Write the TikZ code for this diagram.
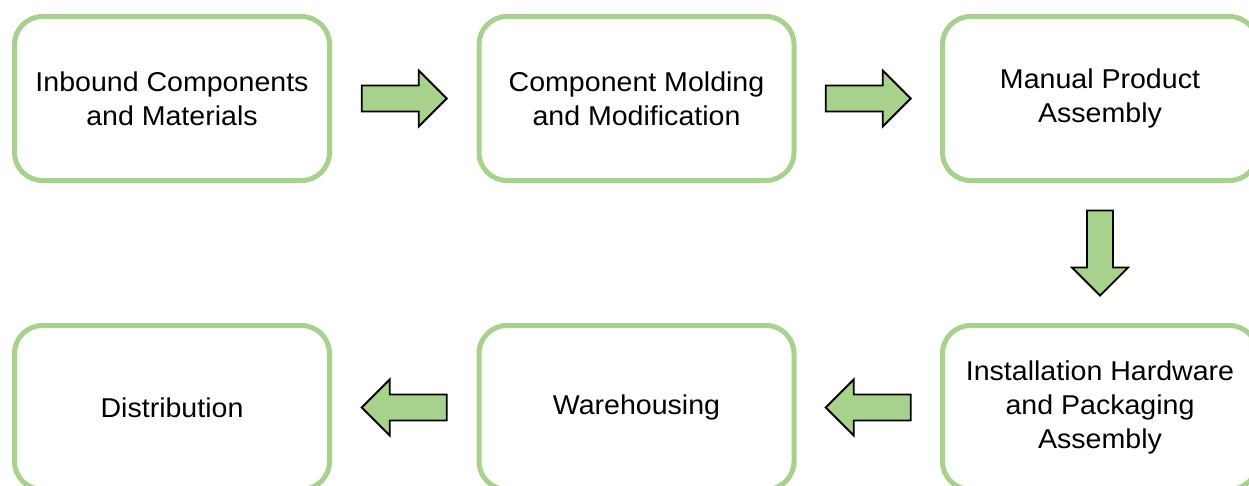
\documentclass[tikz,border=0pt]{standalone}
\usepackage{fontspec}
\setmainfont{Liberation Sans}[FakeStretch=1.05]
\usetikzlibrary{calc}
\definecolor{boxgreen}{HTML}{A9D18E}
\tikzset{
  procbox/.style={draw=boxgreen, line width=5pt, rounded corners=28pt, fill=white,
    minimum width=315pt, minimum height=164pt, align=center, text=black,
    font=\fontsize{27.2}{33.8}\selectfont},
  barrow/.style={draw=black, line width=1.8pt, fill=boxgreen, line join=miter}
}
\newcommand\blockarrow[3]{%
  \draw[barrow, shift={($(#1)!0.5!(#2)$)}, rotate=#3]
    (-42.5,-13) -- (14.5,-13) -- (14.5,-28) -- (42.5,0) -- (14.5,28) -- (14.5,13) -- (-42.5,13) -- cycle;}
\begin{document}
\begin{tikzpicture}[x=1pt, y=-1pt]
\useasboundingbox (0,0) rectangle (1249,485);
\clip (0,0) rectangle (1249,485);
\node[procbox] (b1) at (172,98.5) {Inbound Components\\and Materials};
\node[procbox] (b2) at (636.5,98.5) {Component Molding\\and Modification};
\node[procbox] (b3) at (1100,98.5) {Manual Product\\Assembly};
\node[procbox] (b4) at (1100,407.5) {Installation Hardware\\and Packaging\\Assembly};
\node[procbox] (b5) at (636.5,407.5) {Warehousing};
\node[procbox] (b6) at (172,407.5) {Distribution};
\blockarrow{b1.east}{b2.west}{0}
\blockarrow{b2.east}{b3.west}{0}
\blockarrow{b3.south}{b4.north}{-90}
\blockarrow{b4.west}{b5.east}{180}
\blockarrow{b5.west}{b6.east}{180}
\end{tikzpicture}
\end{document}
